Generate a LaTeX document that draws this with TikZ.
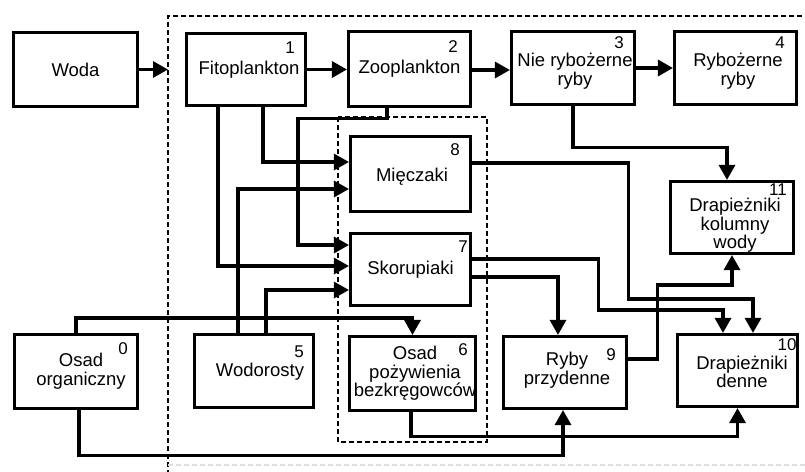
\documentclass[tikz,border=0pt]{standalone}
\usepackage{fontspec}
\setmainfont{Liberation Sans}
\usetikzlibrary{arrows.meta}
\begin{document}
\begin{tikzpicture}[x=1pt,y=-1pt,
  box/.style={draw, line width=3.1pt, inner sep=0pt},
  txt/.style={align=center, inner sep=0pt, font=\fontsize{18.5}{18.7}\selectfont},
  num/.style={inner sep=0pt, font=\fontsize{17}{17}\selectfont},
  conn/.style={line width=3.1pt, -{Triangle[length=15pt,width=16pt]}},
  dashbox/.style={line width=2.6pt, dash pattern=on 5pt off 3pt}]
\useasboundingbox (0,0) rectangle (805,471);
% outer dashed frame
\coordinate (otl) at (168,16);
\coordinate (otr) at (810,16);
\coordinate (obl) at (168,475);
\coordinate (ofl) at (168,465);
\coordinate (ofr) at (805,465);
\draw[dashbox] (otr) -- (otl) -- (obl);
\draw[dashbox, gray!25, line width=1.5pt] (ofl) -- (ofr);
% inner dashed frame
\coordinate (itl) at (338,117);
\coordinate (ibr) at (487,442);
\draw[dashbox] (itl) rectangle (ibr);
% boxes
\node[box, minimum width=124pt, minimum height=74pt] (woda) at (75.5,69.5) {};
\node[box, minimum width=119pt, minimum height=72pt] (b1) at (246,69.5) {};
\node[box, minimum width=122pt, minimum height=75pt] (b2) at (409.5,69) {};
\node[box, minimum width=123pt, minimum height=73pt] (b3) at (573,68) {};
\node[box, minimum width=122pt, minimum height=73pt] (b4) at (735.5,68) {};
\node[box, minimum width=120pt, minimum height=75pt] (b8) at (410.5,174) {};
\node[box, minimum width=120pt, minimum height=72pt] (b7) at (410.5,269.5) {};
\node[box, minimum width=126pt, minimum height=74pt] (b6) at (412.5,373.5) {};
\node[box, minimum width=123pt, minimum height=74pt] (b0) at (76,371.5) {};
\node[box, minimum width=119pt, minimum height=73pt] (b5) at (254,371) {};
\node[box, minimum width=123pt, minimum height=72pt] (b9) at (565,372.5) {};
\node[box, minimum width=120pt, minimum height=72pt] (b10) at (737.5,370.5) {};
\node[box, minimum width=123pt, minimum height=72pt] (b11) at (732,217.5) {};
% texts
\node[txt] (t0) at ([shift={(0pt,0pt)}]woda.center) {Woda};
\node[txt] (t1) at ([shift={(3pt,0pt)}]b1.center) {Fitoplankton};
\node[txt] (t2) at ([shift={(0pt,0pt)}]b2.center) {Zooplankton};
\node[txt] (t3) at ([shift={(2pt,-3pt)}]b3.center) {Nie rybożerne\\ryby};
\node[txt] (t4) at ([shift={(2.5pt,-3pt)}]b4.center) {Rybożerne\\ryby};
\node[txt] (t8) at ([shift={(1.5pt,-3pt)}]b8.center) {Mięczaki};
\node[txt] (t7) at ([shift={(0pt,0pt)}]b7.center) {Skorupiaki};
\node[txt] (t6) at ([shift={(2.5pt,0pt)}]b6.center) {Osad\\pożywienia\\bezkręgowców};
\node[txt] (tb0) at ([shift={(5pt,0pt)}]b0.center) {Osad\\organiczny};
\node[txt] (t5) at ([shift={(6pt,-1pt)}]b5.center) {Wodorosty};
\node[txt] (t9) at ([shift={(2pt,2pt)}]b9.center) {Ryby\\przydenne};
\node[txt] (t10) at ([shift={(4.5pt,-1.5pt)}]b10.center) {Drapieżniki\\denne};
\node[txt] (t11) at ([shift={(3pt,-8pt)}]b11.center) {Drapieżniki\\kolumny\\wody};
% numbers
\node[num] (n1) at ([shift={(-17pt,-16pt)}]b1.north east) {1};
\node[num] (n2) at ([shift={(-19pt,-17pt)}]b2.north east) {2};
\node[num] (n3) at ([shift={(-17pt,-13pt)}]b3.north east) {3};
\node[num] (n4) at ([shift={(-18pt,-13pt)}]b4.north east) {4};
\node[num] (n8) at ([shift={(-17pt,-15pt)}]b8.north east) {8};
\node[num] (n7) at ([shift={(-9pt,-15pt)}]b7.north east) {7};
\node[num] (n11) at ([shift={(-17pt,-10pt)}]b11.north east) {11};
\node[num] (n0) at ([shift={(-16pt,-16pt)}]b0.north east) {0};
\node[num] (n5) at ([shift={(-16pt,-19pt)}]b5.north east) {5};
\node[num] (n6) at ([shift={(-14pt,-15pt)}]b6.north east) {6};
\node[num] (n9) at ([shift={(-17pt,-20pt)}]b9.north east) {9};
\node[num] (n10) at ([shift={(-12pt,-12pt)}]b10.north east) {10};
% connectors
\draw[conn] (woda.east) -- (woda.east -| otl);
\draw[conn] (b1.east) -- (b1.east -| b2.west);
\draw[conn] ([yshift=-1pt]b2.east) -- ([yshift=-1pt]b2.east -| b3.west);
\draw[conn] (b3.east) -- (b3.east -| b4.west);
\draw[conn] ([xshift=-28pt]b1.south) |- ([yshift=3.5pt]b7.west);
\draw[conn] ([xshift=17pt]b1.south) |- ([yshift=12pt]b8.west);
\draw[conn] ([xshift=-22.5pt]b2.south) -- ++(0,10) -- ++(-89,0) |- ([yshift=24.5pt]b7.west);
\draw[conn] ([xshift=-16pt]b5.north) |- ([yshift=-15pt]b8.west);
\draw[conn] ([xshift=12pt]b5.north) |- ([yshift=-20.5pt]b7.west);
\draw[conn] (b0.north) -- ++(0,-15) -| (b6.north);
\draw[conn] ([xshift=3pt]b0.south) -- ++(0,45) -| ([xshift=-2pt]b9.south);
\draw[conn] ([xshift=-1.5pt]b6.south) -- ++(0,24) -| (b10.south);
\draw[conn] (b3.south) -- ++(0,41) -| ([xshift=-5pt]b11.north);
\draw[conn] ([yshift=11pt]b8.east) -- ++(156,0) -- ++(0,136) -| ([xshift=15.5pt]b10.north);
\draw[conn] ([yshift=10.5pt]b7.east) -- ++(126,0) -- ++(0,51) -| ([xshift=-14.5pt]b10.north);
\draw[conn] ([yshift=-7.5pt]b7.east) -| ([xshift=-7pt]b9.north);
\draw[conn] ([yshift=13.5pt]b9.east) -- ++(29,0) -- ++(0,-74) -| (b11.south);
\end{tikzpicture}
\end{document}
